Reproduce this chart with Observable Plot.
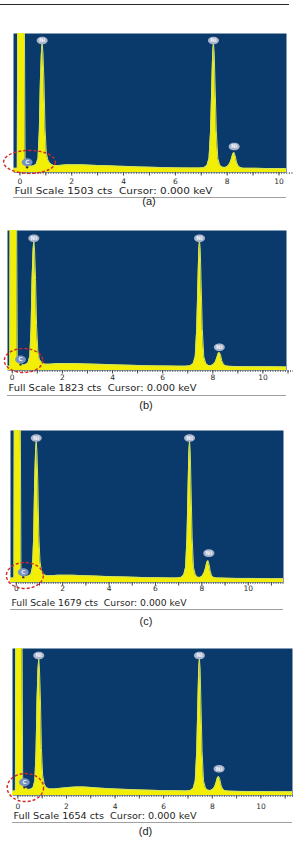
<!DOCTYPE html>
<html><head><meta charset="utf-8">
<script src="https://cdn.jsdelivr.net/npm/d3@7"></script>
<script src="https://cdn.jsdelivr.net/npm/@observablehq/plot@0.6"></script>
<style>
html,body{margin:0;padding:0;background:#fff}
body{width:293px;height:842px;overflow:hidden;position:relative;font-family:"Liberation Sans",Arial,sans-serif}
.panel{position:absolute;left:0}
.panel svg{display:block}
#hdr{position:absolute;left:0;top:4px;width:289px;height:0;border-top:1.6px solid #2a2a2a}
</style></head><body>
<div id="hdr"></div>
<script>
// ---- data ----
const energy = [-0.3,-0.1,-0.08,0.16,0.2, 0.25,0.3,0.36,0.45,0.55, 0.63,0.7,0.75,0.79,0.83, 0.86,0.89,0.93,0.97,1.02,
  1.08,1.16,1.3,1.5,1.8, 2.1,2.4,2.7,3.0,3.4, 3.8,4.2,4.6,5.0,5.4, 5.8,6.2,6.6,6.9,7.1,
  7.22,7.3,7.36,7.41,7.44, 7.47,7.5,7.53,7.58,7.64, 7.72,7.82,7.92,8.02,8.1, 8.16,8.21,8.26,8.31,8.36,
  8.42,8.5,8.62,8.8,9.1, 9.5,10.0,10.5,11.0,11.6];
const countsA = [3,3,160,160,8, 6,6.5,5,4.5,5, 6,10,30,65,86, 93,86,65,32,14,
  9,6.5,5,5,5.5, 5.5,5.5,5.3,5,4.8, 4.5,4.3,4,3.8,3.6, 3.4,3.3,3.2,3.2,3.5,
  5,10,30,65,86, 93,86,65,30,10, 5,3.8,3.6,4.5,6.5, 9.5,13,14.5,12,7.5,
  4.8,3.6,3,3,3, 2.8,2.8,2.7,2.6,2.5];
const countsB = [3,3,160,160,7, 5.5,6,4.5,4,4.5, 5.5,10,30,65,86, 93,86,65,32,14,
  8,6,4.5,4.5,5, 5,5,4.8,4.6,4.4, 4.2,4,3.8,3.6,3.4, 3.3,3.2,3.1,3.1,3.4,
  5,10,30,65,86, 93,86,65,30,10, 5,3.6,3.4,4.2,6, 9,12,13,11,7,
  4.5,3.4,3,2.9,2.8, 2.7,2.7,2.6,2.5,2.5];
const countsC = [3,3,160,160,7, 5,5.5,4.5,4,4.5, 5.5,10,30,65,86, 93,86,65,32,14,
  8,5.5,4.5,4.5,4.8, 4.8,4.8,4.6,4.4,4.2, 4,3.8,3.7,3.5,3.3, 3.2,3.1,3,3,3.3,
  5,10,30,65,86, 93,86,65,30,10, 5,3.5,3.3,4.2,6.5, 9.5,13,14.5,12,7.5,
  4.6,3.4,3,2.9,2.8, 2.7,2.7,2.6,2.5,2.5];
const countsD = [3,3,160,160,7, 5.5,6,4.5,4,4.5, 5.5,10,30,65,86, 93,86,65,32,14,
  8,5.5,4.5,4.5,5, 5.5,5.8,5.8,5.5,5, 4.6,4.3,4,3.8,3.6, 3.4,3.3,3.2,3.1,3.4,
  5,10,30,65,86, 93,86,65,30,10, 5,3.6,3.4,4.2,6, 9,12,13,11,7,
  4.5,3.4,3,2.9,2.8, 2.7,2.7,2.6,2.5,2.5];
const fullScale = [1503, 1823, 1679, 1654];
const panelLetters = ["(a)", "(b)", "(c)", "(d)"];
const tickLabels = [0, 2, 4, 6, 8, 10];
const majorTicks = [0,1,2,3,4,5,6,7,8,9,10,11];
const peakName = "Ni";
const niEnergy = [[0.86,7.47,8.27],[0.86,7.47,8.26],[0.86,7.47,8.3],[0.86,7.47,8.28]];
const niLabelY = [[95,95,18.7],[94.5,94.5,16.6],[95,95,19.3],[95.2,95.2,18.2]];
const cEnergy = [0.28, 0.33, 0.30, 0.27];
const cLabelY = [7.4, 7.9, 6.8, 9.0];
const ringEnergy = [0.37, 0.45, 0.37, 0.31];
const ringY = [7.6, 7.1, 4.6, 5.4];

// ---- styling / layout ----
const BLUE = "#0a3a6c", YELLOW = "#f2ef05", RIDGE = "#cfe36a";
const layout = [
  {top:0,   h:214, mt:33, mb:42, ml:13, mr:7,  dom:[-0.247,10.29], tickDy:11, fsDy:21, fsLen:200, bDy:25, capDy:32, capDx:-1, ringR:11.5, ringA:2.25},
  {top:214, h:210, mt:16, mb:54, ml:7,  mr:7,  dom:[-0.19,10.94],  tickDy:9,  fsDy:20, fsLen:190, bDy:25, capDy:38, capDx:-1, ringR:12, ringA:1.6},
  {top:424, h:210, mt:6,  mb:52, ml:10, mr:10, dom:[-0.25,11.52],  tickDy:8,  fsDy:23, fsLen:177, bDy:27, capDy:42, capDx:-1, ringR:13, ringA:1.42},
  {top:634, h:208, mt:14, mb:47, ml:12, mr:1,  dom:[-0.22,11.30],  tickDy:13, fsDy:23, fsLen:185, bDy:27, capDy:39, capDx:-7, ringR:14, ringA:1.3}
];
const counts = [countsA, countsB, countsC, countsD];
const minorTicks = d3.range(0, 11.55, 0.1);

function ellipseSymbol(aspect) {
  return {draw(ctx, size) {
    const ry = Math.sqrt(size / Math.PI), rx = ry * aspect, k = 0.5523;
    ctx.moveTo(rx, 0);
    ctx.bezierCurveTo(rx, k*ry, k*rx, ry, 0, ry);
    ctx.bezierCurveTo(-k*rx, ry, -rx, k*ry, -rx, 0);
    ctx.bezierCurveTo(-rx, -k*ry, -k*rx, -ry, 0, -ry);
    ctx.bezierCurveTo(k*rx, -ry, rx, -k*ry, rx, 0);
    ctx.closePath();
  }};
}

layout.forEach((L, p) => {
  const spec = energy.map((e, i) => ({e, c: counts[p][i]}));
  const ni = niEnergy[p].map((e, i) => ({e, y: niLabelY[p][i]}));
  const cl = [{e: cEnergy[p], y: cLabelY[p]}];
  const ring = [{e: ringEnergy[p], y: ringY[p]}];
  const fsText = `Full Scale ${fullScale[p]} cts  Cursor: 0.000 keV`;
  const plot = Plot.plot({
    width: 293, height: L.h,
    marginTop: L.mt, marginBottom: L.mb, marginLeft: L.ml, marginRight: L.mr,
    x: {domain: L.dom, axis: null},
    y: {domain: [0, 100], axis: null},
    style: {fontFamily: "'DejaVu Sans', sans-serif", background: "transparent", overflow: "visible"},
    marks: [
      Plot.frame({fill: BLUE, stroke: "none"}),
      Plot.areaY(spec, {x: "e", y: "c", fill: YELLOW, clip: true}),
      Plot.line(spec, {x: "e", y: "c", stroke: RIDGE, strokeWidth: 1, clip: true}),
      Plot.axisX(minorTicks, {tickSize: 2, fill: "none", stroke: "#555", strokeWidth: 0.8, label: null}),
      Plot.axisX(majorTicks, {tickSize: 3.5, fill: "none", stroke: "#444", label: null}),
      Plot.text(tickLabels, {x: d => d, text: d => String(d), frameAnchor: "bottom", dy: L.tickDy, fontSize: 7.5, fill: "#2a2a2a"}),
      Plot.ruleY([0], {dy: L.bDy, stroke: "#a0a0a0", strokeWidth: 1.2}),
      Plot.text([fsText], {text: d => d, frameAnchor: "bottom-left", textAnchor: "start", dx: 1, dy: L.fsDy, fontSize: 8, fill: "#1e1e1e"}),
      Plot.text([panelLetters[p]], {text: d => d, frameAnchor: "bottom", dx: L.capDx, dy: L.capDy, fontSize: 11, fontFamily: "'Liberation Sans', Arial, sans-serif", fill: "#222"}),
      // element labels
      Plot.dot(ni, {x: "e", y: "y", r: 3.8, symbol: ellipseSymbol(1.45), fill: "#a9b4ca", stroke: "none"}),
      Plot.text(ni, {x: "e", y: "y", text: () => peakName, fontSize: 5.5, fontWeight: "bold", fill: "#eef2fa"}),
      Plot.dot(cl, {x: "e", y: "y", r: 1.2, dy: 5, fill: "#333", stroke: "none"}),
      Plot.dot(cl, {x: "e", y: "y", r: 4, symbol: ellipseSymbol(1.35), fill: "#7893c0", stroke: "none"}),
      Plot.text(cl, {x: "e", y: "y", text: () => "C", fontSize: 5.5, fontWeight: "bold", fill: "#eef2fa"}),
      // red dashed ring around carbon
      Plot.dot(ring, {x: "e", y: "y", r: L.ringR, symbol: ellipseSymbol(L.ringA), fill: "none", stroke: "#d3282a", strokeWidth: 1.4, strokeDasharray: "3,2"})
    ]
  });
  d3.select(plot).selectAll("text").filter(function() { return this.textContent.startsWith("Full Scale"); })
    .attr("textLength", L.fsLen - 2).attr("lengthAdjust", "spacingAndGlyphs");
  const div = document.createElement("div");
  div.className = "panel";
  div.style.top = L.top + "px";
  div.appendChild(plot);
  document.body.appendChild(div);
});
</script>
</body></html>
